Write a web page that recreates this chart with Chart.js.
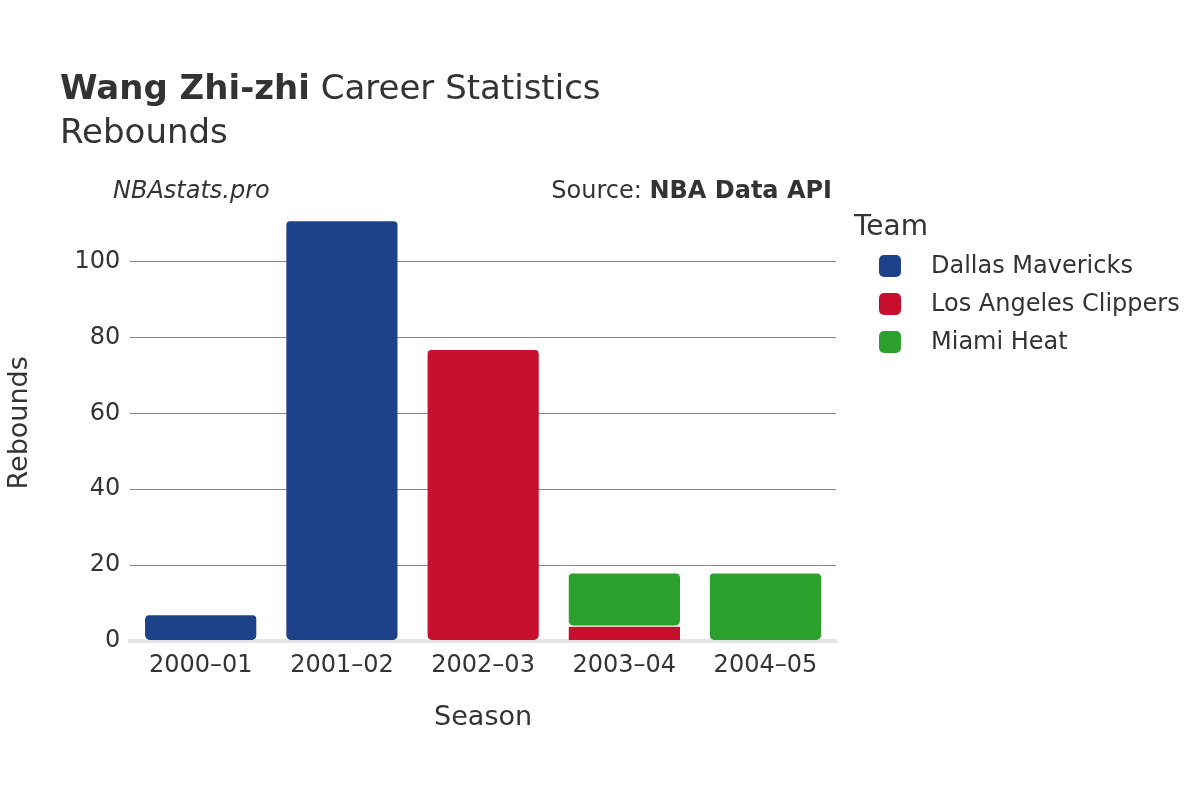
<!DOCTYPE html>
<html><head><meta charset="utf-8">
<script src="https://cdn.jsdelivr.net/npm/chart.js@4"></script>
<style>
body{margin:0;width:1200px;height:800px;background:#fff;font-family:"DejaVu Sans",sans-serif;color:#333;position:relative;overflow:hidden}
.t{position:absolute;white-space:nowrap}
#c{position:absolute;left:0;top:0}
.sw{position:absolute;width:22px;height:22px;border-radius:5px}
</style></head><body>
<canvas id="c" width="1200" height="800"></canvas>
<div class="t" style="left:60px;top:67px;font-size:34px"><b>Wang Zhi-zhi</b> Career Statistics</div>
<div class="t" style="left:60px;top:111px;font-size:34px">Rebounds</div>
<div class="t" style="left:113px;top:176px;font-size:24px;font-style:italic">NBAstats.pro</div>
<div class="t" style="right:368px;top:176px;font-size:24px">Source: <b>NBA Data API</b></div>
<div class="t" style="left:854px;top:209px;font-size:28px">Team</div>
<div id="leg"></div>
<script>
const seasons=["2000–01","2001–02","2002–03","2003–04","2004–05"];
const teams=["Dallas Mavericks","Los Angeles Clippers","Miami Heat"];
const colors=["#1d428a","#c8102e","#2ca02c"];
const dallas=[7,111,0,0,0];
const clippers=[0,0,77,4,0];
const miami=[0,0,0,14,18];
const series=[dallas,clippers,miami];
const leg=document.getElementById('leg');
teams.forEach((t,i)=>{
 leg.innerHTML+=`<div class="sw" style="left:879px;top:${255+i*38}px;background:${colors[i]}"></div><div class="t" style="left:931px;top:${251+i*38}px;font-size:24px">${t}</div>`;
});
new Chart(document.getElementById('c'),{
 type:'bar',
 data:{labels:seasons,datasets:series.map((d,i)=>({label:teams[i],data:d.map(v=>v||null),backgroundColor:colors[i],borderColor:'#fff',borderWidth:{top:1},borderRadius:5,borderSkipped:false,barPercentage:0.79,categoryPercentage:1}))},
 options:{responsive:false,animation:false,devicePixelRatio:1,
  layout:{padding:{left:0,right:364,top:205,bottom:62}},
  plugins:{legend:{display:false},tooltip:{enabled:false}},
  scales:{
   x:{stacked:true,grid:{display:false},border:{color:'#e5e5e5',width:4},ticks:{color:'#333',font:{size:24,family:'DejaVu Sans'}},title:{display:true,text:'Season',color:'#333',font:{size:27,family:'DejaVu Sans'},padding:{top:18}}},
   y:{stacked:true,min:0,max:115,afterBuildTicks:a=>{a.ticks=[0,20,40,60,80,100].map(v=>({value:v}))},grid:{color:'#888',drawTicks:false},border:{display:false},ticks:{color:'#333',padding:10,font:{size:24,family:'DejaVu Sans'}},title:{display:true,text:'Rebounds',color:'#333',font:{size:27,family:'DejaVu Sans'},padding:{bottom:28}}}
  }}
});
</script>
</body></html>
